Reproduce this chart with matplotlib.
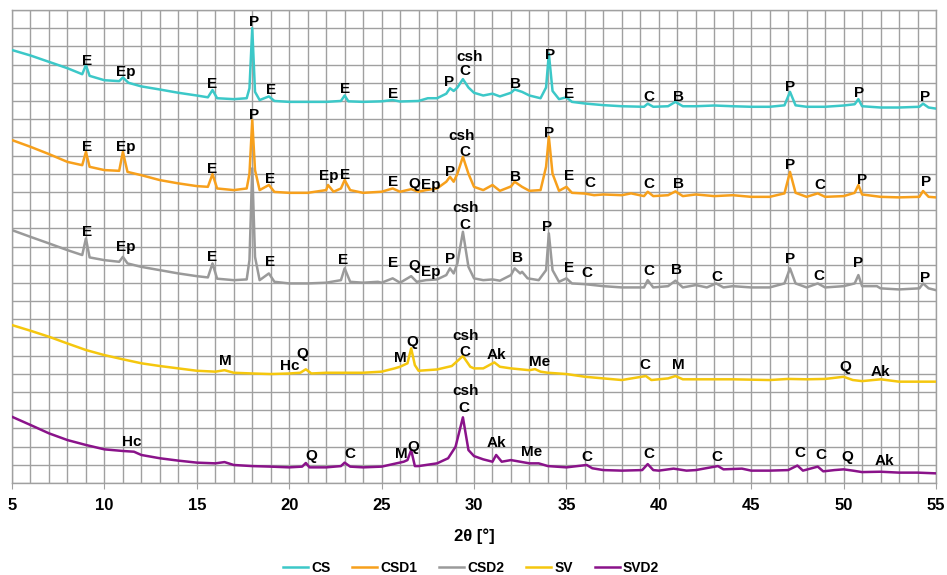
import numpy as np
import matplotlib
matplotlib.use("Agg")
import matplotlib.pyplot as plt
from matplotlib.ticker import MultipleLocator

plt.rcParams['font.family'] = ['Liberation Sans', 'DejaVu Sans']
plt.rcParams['font.weight'] = 'bold'

# ---- traces (2theta in degrees, offset intensity in grid units) ----
cs_x = [5, 6, 7, 8, 8.8, 9.0, 9.2, 10, 10.8, 11.0, 11.3, 12, 13, 14, 15, 15.6, 15.85, 16.1, 17, 17.7, 17.85, 18.0, 18.15,
        18.4, 18.9, 19.2, 20, 21, 22, 22.8, 23.0, 23.2, 24, 25, 25.6, 26, 27, 27.5, 28, 28.5, 28.7, 28.9, 29.1, 29.4, 29.7,
        30, 30.5, 31, 31.4, 32.0, 32.2, 32.6, 33.0, 33.6, 33.9, 34.05, 34.25, 34.6, 35.0, 35.3, 36, 37, 38, 39.2, 39.4,
        39.7, 40.5, 40.9, 41.3, 42, 43, 44, 45, 46, 46.8, 47.1, 47.4, 48, 49, 50, 50.6, 50.8, 51.0, 52, 53, 54.1, 54.3,
        54.6, 55]
cs_y = [23.8, 23.5, 23.15, 22.8, 22.47, 22.97, 22.38, 22.14, 22.09, 22.29, 22.0, 21.8, 21.63, 21.45, 21.3, 21.2, 21.6,
        21.15, 21.1, 21.15, 21.7, 25.0, 21.5, 21.05, 21.25, 21.0, 20.95, 20.95, 20.95, 21.0, 21.3, 20.98, 20.95, 20.98,
        21.05, 20.97, 21.0, 21.15, 21.15, 21.4, 21.7, 21.55, 21.74, 22.2, 21.74, 21.45, 21.3, 21.4, 21.25, 21.45, 21.63,
        21.5, 21.3, 21.15, 21.74, 23.6, 21.55, 21.1, 21.2, 20.95, 20.86, 20.77, 20.71, 20.68, 20.85, 20.68, 20.71, 20.95,
        20.71, 20.71, 20.75, 20.71, 20.68, 20.68, 20.76, 21.5, 20.76, 20.68, 20.68, 20.75, 20.82, 21.1, 20.71, 20.64,
        20.64, 20.68, 20.85, 20.64, 20.58]

csd1_x = [5, 6, 7, 8, 8.8, 9.0, 9.2, 10, 10.8, 11.0, 11.25, 12, 13, 14, 15, 15.6, 15.85, 16.1, 17, 17.7, 17.85, 18.0,
          18.15, 18.4, 18.9, 19.2, 20, 21, 22, 22.1, 22.4, 22.8, 23.0, 23.3, 24, 25, 25.6, 26, 26.6, 27, 27.4, 28, 28.5,
          28.7, 28.9, 29.1, 29.4, 29.7, 30, 30.5, 31, 31.4, 32, 32.2, 32.6, 33, 33.6, 33.9, 34.05, 34.25, 34.6, 35.0, 35.3,
          36, 36.5, 37, 38, 38.5, 39.2, 39.4, 39.7, 40.5, 40.9, 41.3, 42, 43, 44, 45, 46, 46.8, 47.1, 47.4, 48, 48.6, 49,
          50, 50.6, 50.8, 51.0, 52, 53, 54.1, 54.3, 54.6, 55]
csd1_y = [18.85, 18.48, 18.08, 17.65, 17.47, 18.2, 17.38, 17.2, 17.16, 18.2, 17.1, 16.92, 16.65, 16.47, 16.32, 16.28,
          16.98, 16.19, 16.1, 16.19, 17.0, 19.95, 17.2, 16.1, 16.38, 16.0, 15.95, 15.95, 16.1, 16.38, 16.01, 16.19, 16.65,
          16.1, 15.95, 16.01, 16.19, 16.01, 16.15, 16.01, 16.1, 16.19, 16.56, 16.83, 16.56, 17.0, 17.93, 17.0, 16.28, 16.1,
          16.38, 16.06, 16.3, 16.56, 16.28, 16.06, 16.1, 17.38, 19.03, 17.0, 16.06, 16.28, 15.95, 15.91, 15.82, 15.86,
          15.82, 15.92, 15.77, 16.01, 15.77, 15.82, 16.03, 15.77, 15.86, 15.77, 15.82, 15.73, 15.73, 15.92, 17.1, 15.95,
          15.73, 15.92, 15.73, 15.77, 15.95, 16.38, 15.86, 15.73, 15.7, 15.73, 16.05, 15.73, 15.7]

csd2_x = [5, 6, 7, 8, 8.8, 9.0, 9.2, 10, 10.8, 11.0, 11.25, 12, 12.5, 13, 14, 15, 15.6, 15.85, 16.1, 17, 17.7, 17.85,
          18.0, 18.15, 18.4, 18.9, 19.2, 20, 21, 22, 22.8, 23.0, 23.3, 24, 24.8, 25, 25.6, 26, 26.6, 26.9, 27.4, 28, 28.5,
          28.7, 28.9, 29.1, 29.4, 29.7, 30, 30.5, 31, 31.4, 32, 32.2, 32.5, 32.6, 32.9, 33.5, 33.9, 34.05, 34.25, 34.6,
          35.0, 35.3, 36, 37, 38, 39.2, 39.4, 39.7, 40.5, 40.9, 41.3, 42, 42.6, 43.1, 43.5, 44, 45, 46, 46.8, 47.1, 47.4,
          48, 48.6, 49, 50, 50.6, 50.8, 51.0, 51.8, 52, 53, 54.1, 54.3, 54.6, 55]
csd2_y = [13.9, 13.53, 13.17, 12.8, 12.53, 13.44, 12.4, 12.25, 12.16, 12.43, 12.07, 11.88, 11.79, 11.7, 11.52, 11.37,
          11.3, 12.07, 11.23, 11.15, 11.19, 12.25, 17.3, 12.43, 11.15, 11.52, 11.06, 10.97, 10.97, 11.01, 11.15, 11.8,
          11.06, 11.01, 11.06, 11.01, 11.25, 11.01, 11.37, 11.06, 11.15, 11.19, 11.43, 11.8, 11.52, 12.07, 13.81, 11.88,
          11.25, 11.15, 11.19, 11.12, 11.43, 11.8, 11.52, 11.61, 11.25, 11.15, 11.7, 13.72, 11.7, 11.06, 11.25, 10.97,
          10.93, 10.82, 10.75, 10.75, 11.15, 10.75, 10.82, 11.12, 10.75, 10.88, 10.75, 10.97, 10.75, 10.82, 10.75, 10.75,
          10.97, 11.8, 10.97, 10.75, 10.97, 10.75, 10.82, 10.97, 11.43, 10.82, 10.82, 10.7, 10.64, 10.7, 10.97, 10.7, 10.6]

sv_x = [5, 6, 7, 8, 9, 10, 11, 12, 13, 14, 15, 16, 16.5, 17, 18, 19, 20, 20.6, 20.9, 21.2, 22, 23, 24, 25, 25.7, 26.0,
        26.4, 26.6, 26.8, 27, 28, 28.8, 29.4, 29.8, 30, 30.5, 31.1, 31.4, 32, 33, 33.3, 33.6, 34, 35, 36, 37, 38, 39.3,
        39.6, 40.5, 40.9, 41.3, 42, 44, 46, 47, 48, 49, 50, 50.5, 51, 52, 53, 54, 55]
sv_y = [8.68, 8.37, 8.04, 7.67, 7.31, 7.03, 6.8, 6.58, 6.43, 6.3, 6.17, 6.12, 6.2, 6.06, 6.02, 5.99, 6.02, 6.06, 6.25,
        6.02, 6.06, 6.06, 6.06, 6.12, 6.3, 6.39, 6.58, 7.4, 6.48, 6.17, 6.24, 6.43, 6.98, 6.39, 6.3, 6.3, 6.63, 6.39, 6.3,
        6.2, 6.26, 6.12, 6.06, 5.99, 5.84, 5.75, 5.66, 5.88, 5.66, 5.75, 5.88, 5.7, 5.7, 5.7, 5.66, 5.72, 5.7, 5.72, 5.84,
        5.66, 5.6, 5.7, 5.57, 5.57, 5.57]

svd2_x = [5, 6, 7, 8, 9, 10, 11, 11.6, 12, 13, 14, 15, 16, 16.5, 17, 18, 19, 20, 20.7, 20.9, 21.1, 22, 22.8, 23.0, 23.3,
          24, 25, 25.8, 26.2, 26.4, 26.6, 26.8, 27, 28, 28.6, 29.0, 29.4, 29.7, 30, 30.5, 31, 31.2, 31.5, 32, 32.5, 33,
          33.5, 34, 35, 36.1, 36.4, 37, 38, 39.1, 39.4, 39.7, 40, 40.8, 41.5, 42, 43.2, 43.5, 44.5, 45, 46, 47, 47.5, 47.8,
          48.6, 48.9, 49.5, 50, 50.5, 51, 52, 53, 54, 55]
svd2_y = [3.64, 3.19, 2.73, 2.36, 2.09, 1.85, 1.76, 1.72, 1.54, 1.36, 1.23, 1.12, 1.08, 1.15, 0.99, 0.93, 0.9, 0.86, 0.9,
          1.1, 0.86, 0.86, 0.93, 1.12, 0.9, 0.86, 0.9, 1.08, 1.17, 1.26, 1.81, 0.93, 0.93, 1.08, 1.36, 1.99, 3.61, 1.81,
          1.48, 1.3, 1.17, 1.54, 1.17, 1.26, 1.17, 1.08, 1.08, 0.93, 0.86, 0.99, 0.81, 0.71, 0.68, 0.71, 1.04, 0.71, 0.68,
          0.79, 0.68, 0.71, 0.93, 0.75, 0.79, 0.68, 0.68, 0.71, 0.96, 0.68, 0.9, 0.64, 0.71, 0.75, 0.68, 0.6, 0.62, 0.57,
          0.57, 0.53]

# ---- phase labels: (text, 2theta, height) ----
cs_labels = [("E", 9.06, 23.19), ("Ep", 11.17, 22.58), ("E", 15.82, 21.92), ("P", 18.1, 25.33), ("E", 19.02, 21.59),
             ("E", 23.02, 21.65), ("E", 25.62, 21.37), ("P", 28.65, 22.03), ("csh", 29.78, 23.41), ("C", 29.5, 22.64),
             ("B", 32.27, 21.92), ("P", 34.11, 23.52), ("E", 35.14, 21.37), ("C", 39.47, 21.21), ("B", 41.09, 21.21),
             ("P", 47.1, 21.76), ("P", 50.83, 21.43), ("P", 54.4, 21.21)]
csd1_labels = [("E", 9.06, 18.46), ("Ep", 11.17, 18.46), ("E", 15.82, 17.25), ("P", 18.1, 20.22), ("E", 18.96, 16.7),
               ("Ep", 22.15, 16.87), ("E", 23.02, 16.92), ("E", 25.62, 16.54), ("Q", 26.75, 16.43),
               ("Ep", 27.67, 16.37), ("P", 28.7, 17.09), ("csh", 29.35, 19.07), ("C", 29.51, 18.19),
               ("B", 32.27, 16.81), ("P", 34.06, 19.23), ("E", 35.14, 16.87), ("C", 36.28, 16.48),
               ("C", 39.47, 16.43), ("B", 41.09, 16.43), ("P", 47.1, 17.47), ("C", 48.72, 16.37),
               ("P", 51.0, 16.65), ("P", 54.46, 16.54)]
csd2_labels = [("E", 9.06, 13.79), ("Ep", 11.17, 12.97), ("E", 15.82, 12.42), ("E", 18.96, 12.14), ("E", 22.91, 12.25),
               ("E", 25.62, 12.09), ("Q", 26.75, 11.92), ("Ep", 27.67, 11.59), ("P", 28.7, 12.31),
               ("csh", 29.57, 15.11), ("C", 29.51, 14.18), ("B", 32.33, 12.36), ("P", 33.95, 14.07),
               ("E", 35.14, 11.81), ("C", 36.11, 11.54), ("C", 39.47, 11.65), ("B", 40.98, 11.7),
               ("C", 43.15, 11.32), ("P", 47.1, 12.31), ("C", 48.67, 11.37), ("P", 50.78, 12.09),
               ("P", 54.4, 11.26)]
sv_labels = [("M", 16.53, 6.7), ("Hc", 20.04, 6.43), ("Q", 20.69, 7.09), ("M", 26.0, 6.87), ("Q", 26.65, 7.75),
             ("csh", 29.57, 8.08), ("C", 29.51, 7.2), ("Ak", 31.24, 7.03), ("Me", 33.57, 6.65), ("C", 39.25, 6.48),
             ("M", 41.04, 6.48), ("Q", 50.08, 6.37), ("Ak", 52.02, 6.1)]
svd2_labels = [("Hc", 11.49, 2.25), ("Q", 21.18, 1.48), ("C", 23.29, 1.59), ("M", 26.05, 1.59), ("Q", 26.7, 1.98),
               ("csh", 29.57, 5.05), ("C", 29.46, 4.12), ("Ak", 31.24, 2.2), ("Me", 33.14, 1.7), ("C", 36.11, 1.43),
               ("C", 39.47, 1.59), ("C", 43.15, 1.43), ("C", 47.64, 1.65), ("C", 48.78, 1.54), ("Q", 50.18, 1.43),
               ("Ak", 52.19, 1.21)]

series_names = ["CS", "CSD1", "CSD2", "SV", "SVD2"]
colors = ["#3cc8c8", "#f7a01c", "#9a9a9a", "#f5c70e", "#8a138a"]
xs = [cs_x, csd1_x, csd2_x, sv_x, svd2_x]
ys = [cs_y, csd1_y, csd2_y, sv_y, svd2_y]
label_sets = [cs_labels, csd1_labels, csd2_labels, sv_labels, svd2_labels]

fig = plt.figure(figsize=(9.47, 5.75), dpi=100)
ax = fig.add_axes([12/947, 1-483/575, 924/947, 473/575])

for name, c, x, y in zip(series_names, colors, xs, ys):
    ax.plot(x, y, color=c, lw=1.8, label=name, zorder=3)

for labs in label_sets:
    for txt, lx, ly in labs:
        ax.text(lx, ly, txt, ha='center', va='center', fontsize=11, fontweight='bold', zorder=4)

ax.set_xlim(5, 55)
ax.set_ylim(0, 26)
ax.xaxis.set_major_locator(MultipleLocator(5))
ax.xaxis.set_minor_locator(MultipleLocator(1))
ax.yaxis.set_major_locator(MultipleLocator(1))
ax.grid(which='both', color='#a0a0a0', lw=1.0, zorder=0)
ax.set_yticklabels([])
ax.tick_params(axis='y', length=0)
ax.tick_params(axis='x', which='major', length=4, color='#a0a0a0', pad=7, labelsize=12)
ax.tick_params(axis='x', which='minor', length=0)
for t in ax.get_xticklabels():
    t.set_fontweight('bold')
for s in ax.spines.values():
    s.set_color('#a0a0a0')
    s.set_linewidth(1.0)
ax.set_xlabel("2θ [°]", fontsize=12, fontweight='bold', labelpad=11)

fig.legend(loc='center', bbox_to_anchor=(471/947, 1-568/575), ncol=5, frameon=False,
           prop={'weight': 'bold', 'size': 10}, handlelength=1.8, handletextpad=0.2, columnspacing=1.6,
           borderpad=0.1)

fig.savefig("out.png", dpi=100)
